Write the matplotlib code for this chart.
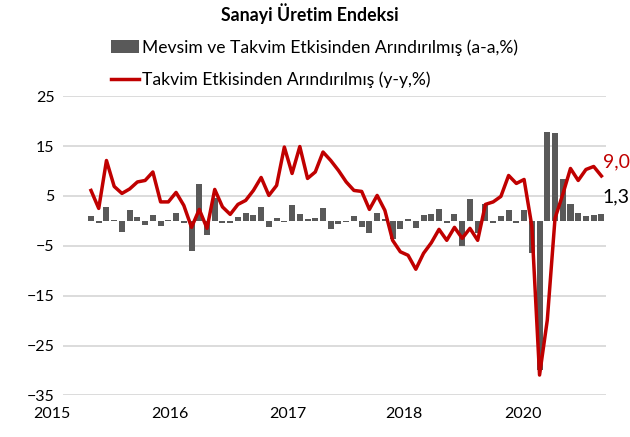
import matplotlib.pyplot as plt
from matplotlib.transforms import blended_transform_factory
import numpy as np

plt.rcParams['font.family'] = ['Lato', 'DejaVu Sans']

# aylik veriler, Haziran 2015 - Aralik 2020
aa = [0.9, -0.5, 2.7, 0.1, -2.3, 2.1, 0.7, -0.8, 1.1, -1.0, 0.2, 1.5, -0.5,
      -6.0, 7.3, -2.9, 4.5, -0.5, -0.5, 0.7, 1.5, 1.2, 2.7, -1.3, 0.5, -0.3,
      3.1, 1.3, 0.3, 0.6, 2.6, -1.6, -0.7, -0.2, 1.0, -1.3, -2.5, 1.5, 0.4,
      -3.7, -1.6, 0.3, -1.4, 1.1, 1.3, 2.4, -0.4, 1.3, -5.1, 4.3, -2.5, 3.3,
      -0.5, 1.0, 2.1, -0.4, 2.1, -6.4, -29.9, 17.8, 17.6, 8.3, 3.3, 1.6, 1.0,
      1.2, 1.3]
yy = [6.1, 2.5, 12.1, 6.9, 5.5, 6.4, 7.8, 8.1, 9.8, 3.8, 3.8, 5.7, 3.1,
      -1.3, 2.3, -1.5, 6.3, 2.8, 1.3, 3.3, 4.1, 6.1, 8.7, 5.1, 7.1, 14.8,
      9.5, 14.9, 8.5, 9.8, 13.8, 12.1, 10.1, 7.8, 6.1, 5.9, 2.3, 5.1, 2.1,
      -3.9, -6.2, -6.9, -9.7, -6.5, -4.4, -1.7, -3.9, -1.3, -3.5, -1.5, -3.9,
      3.3, 3.8, 4.9, 9.1, 7.5, 8.3, -1.0, -30.9, -19.9, 0.5, 5.3, 10.5, 8.1,
      10.3, 10.9, 9.0]
yil_etiket = ['2015', '2016', '2017', '2018', '2020']
yil_konum = [-5.05, 10.2, 25.4, 40.5, 55.8]

x = np.arange(len(aa))

fig = plt.figure(figsize=(6.3, 4.37), dpi=100)
ax = fig.add_axes([0.1, 0.095, 0.862, 0.685])

b = ax.bar(x, aa, width=0.78, color='#595959', zorder=2,
           label='Mevsim ve Takvim Etkisinden Arındırılmış (a-a,%)')
l, = ax.plot(x, yy, color='#c00000', lw=2.5, zorder=3,
             label='Takvim Etkisinden Arındırılmış (y-y,%)')

ax.set_ylim(-35, 25)
ax.set_xlim(-3.62, 66.6)
ax.set_yticks(range(-35, 26, 10))
ax.set_xticks([])
ax.grid(axis='y', color='#d9d9d9', lw=1.3, zorder=0)
for s in ax.spines.values():
    s.set_visible(False)
ax.tick_params(axis='y', length=0, pad=6, labelsize=11.5)

tr = blended_transform_factory(ax.transData, ax.transAxes)
for p, t in zip(yil_konum, yil_etiket):
    ax.text(p, -0.062, t, transform=tr, ha='center', va='center',
            fontsize=11.5, clip_on=False)

ax.text(x[-1] + 0.2, yy[-1] + 2.8, '9,0', color='#c00000', fontsize=14,
        ha='left', va='center', clip_on=False)
ax.text(x[-1] + 0.2, aa[-1] + 3.5, '1,3', color='black', fontsize=14,
        ha='left', va='center', clip_on=False)

fig.text(0.492, 1 - 14 / 437, 'Sanayi Üretim Endeksi', ha='center',
         va='center', fontsize=12.8, fontweight='bold')

fig.legend(handles=[b, l], loc='upper left',
           bbox_to_anchor=(111 / 630, 1 - 39 / 437), frameon=False,
           fontsize=12.6, handlelength=1.6, handletextpad=0.15,
           borderpad=0, borderaxespad=0, labelspacing=0.9)

fig.savefig('out.png', dpi=100)
